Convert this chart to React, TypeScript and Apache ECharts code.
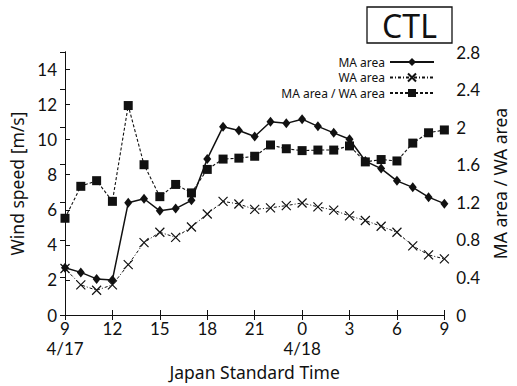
import React, { useEffect, useRef } from "react";
import * as echarts from "echarts";

const hours = [0, 1, 2, 3, 4, 5, 6, 7, 8, 9, 10, 11, 12, 13, 14, 15, 16, 17, 18, 19, 20, 21, 22, 23, 24];
const hourLabels: Record<number, string> = {
  0: "9", 3: "12", 6: "15", 9: "18", 12: "21", 15: "0", 18: "3", 21: "6", 24: "9",
};
const dateLabels: Record<number, string> = { 0: "4/17", 15: "4/18" };
const maArea = [2.7, 2.43, 2.06, 2.0, 6.4, 6.63, 5.94, 6.07, 6.54, 8.9, 10.74, 10.52, 10.18, 11.02, 10.93, 11.17, 10.76, 10.39, 10.02, 8.78, 8.35, 7.65, 7.28, 6.72, 6.35];
const waArea = [2.65, 1.72, 1.41, 1.72, 2.87, 4.13, 4.72, 4.43, 5.02, 5.76, 6.48, 6.33, 6.02, 6.11, 6.24, 6.39, 6.17, 5.98, 5.65, 5.39, 5.06, 4.72, 3.94, 3.43, 3.2];
const ratio = [1.03, 1.37, 1.43, 1.21, 2.23, 1.6, 1.26, 1.39, 1.3, 1.55, 1.66, 1.67, 1.69, 1.81, 1.77, 1.75, 1.756, 1.756, 1.8, 1.63, 1.655, 1.64, 1.83, 1.94, 1.97];

const FONT = "Noto Sans";
const TICKFONT = "Lato";
const XSYM = "path://M0,0L10,10M10,0L0,10";

export default function App() {
  const ref = useRef<HTMLDivElement>(null);
  useEffect(() => {
    const chart = echarts.init(ref.current!, undefined, { renderer: "svg" });
    const pair = (arr: number[]) => hours.map((h, i) => [h, arr[i]]);
    const tick = { inside: true, length: 5, lineStyle: { color: "#111" } };
    const line = { show: true, lineStyle: { color: "#111", width: 1 } };
    const tl = { fontFamily: TICKFONT, fontSize: 17, color: "#111" };
    chart.setOption({
      animation: false,
      backgroundColor: "#fff",
      textStyle: { fontFamily: FONT, color: "#111" },
      graphic: [
        { type: "rect", shape: { x: 367, y: 7, width: 85, height: 36 }, style: { fill: "none", stroke: "#111", lineWidth: 1.3 } },
        { type: "text", x: 409.5, y: 25.5, style: { text: "CTL", font: `32px "${FONT}"`, fill: "#111", align: "center", verticalAlign: "middle" } },
      ],
      legend: {
        orient: "vertical",
        right: 82,
        top: 56,
        padding: 0,
        align: "right",
        itemWidth: 44,
        itemHeight: 10,
        itemGap: 3.5,
        textStyle: { fontFamily: FONT, fontSize: 12, color: "#111", padding: [0, 0, 0, 0] },
        data: ["MA area", "WA area", "MA area / WA area"],
      },
      grid: { left: 65, right: 66, top: 52, bottom: 66, containLabel: false },
      xAxis: [
        {
          type: "value", min: 0, max: 24, interval: 3,
          name: "Japan Standard Time", nameLocation: "middle", nameGap: 48,
          nameTextStyle: { fontFamily: FONT, fontSize: 17.5, color: "#111", lineHeight: 18 },
          axisLine: line,
          axisTick: tick,
          axisLabel: { ...tl, margin: 5, formatter: (v: number) => hourLabels[v] ?? "" },
          splitLine: { show: false },
        },
        {
          type: "value", min: 0, max: 24, interval: 3, position: "top",
          axisLine: line,
          axisTick: tick,
          axisLabel: { show: false },
          splitLine: { show: false },
        },
        {
          type: "value", min: 0, max: 24, interval: 3, position: "bottom", offset: 19,
          axisLine: { show: false },
          axisTick: { show: false },
          axisLabel: { ...tl, margin: 6, formatter: (v: number) => dateLabels[v] ?? "" },
          splitLine: { show: false },
        },
      ],
      yAxis: [
        {
          type: "value", min: 0, max: 15, interval: 2,
          name: "Wind speed [m/s]", nameLocation: "middle", nameGap: 39,
          nameTextStyle: { fontFamily: FONT, fontSize: 17.5, color: "#111" },
          axisLine: line,
          axisTick: tick,
          axisLabel: { ...tl, margin: 8, showMaxLabel: false, formatter: (v: number) => (v % 2 === 0 ? String(v) : "") },
          splitLine: { show: false },
        },
        {
          type: "value", min: 0, max: 2.8, interval: 0.4, position: "right",
          name: "MA area / WA area", nameLocation: "middle", nameGap: 46, nameRotate: 90,
          nameTextStyle: { fontFamily: FONT, fontSize: 17.5, color: "#111" },
          axisLine: line,
          axisTick: tick,
          axisLabel: { ...tl, margin: 12, formatter: (v: number) => String(+v.toFixed(1)) },
          splitLine: { show: false },
        },
      ],
      series: [
        {
          name: "WA area", type: "line", yAxisIndex: 0, data: pair(waArea),
          symbol: XSYM, symbolSize: 9,
          itemStyle: { color: "#111", borderColor: "#111", borderWidth: 1.2 },
          lineStyle: { color: "#111", width: 1, type: [3, 2, 1, 2] },
        },
        {
          name: "MA area", type: "line", yAxisIndex: 0, data: pair(maArea),
          symbol: "diamond", symbolSize: [8, 10],
          itemStyle: { color: "#111", borderWidth: 0 },
          lineStyle: { color: "#111", width: 1.5, type: "solid" },
        },
        {
          name: "MA area / WA area", type: "line", yAxisIndex: 1, data: pair(ratio),
          symbol: "rect", symbolSize: 9,
          itemStyle: { color: "#111", borderWidth: 0 },
          lineStyle: { color: "#111", width: 1.1, type: [3, 2] },
        },
      ],
    });
    return () => chart.dispose();
  }, []);
  return <div ref={ref} style={{ width: 517, height: 386, position: "absolute", left: 0, top: 0 }} />;
}
